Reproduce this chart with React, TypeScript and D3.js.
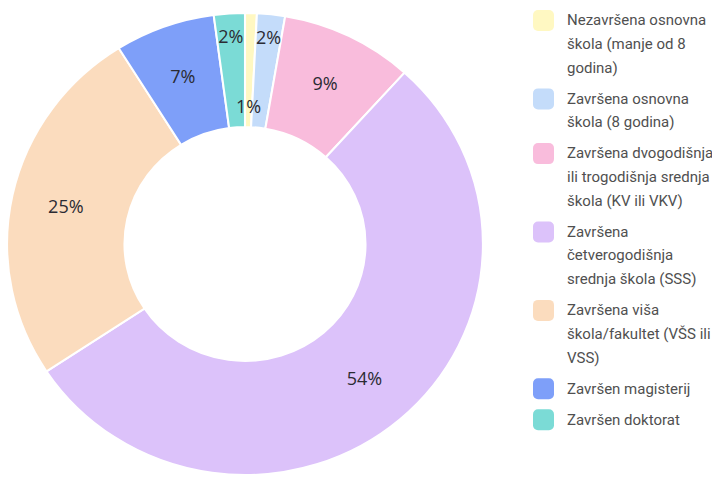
import React, { useEffect, useRef } from 'react'
import * as d3 from 'd3'

const categories = [
  'Nezavršena osnovna škola (manje od 8 godina)',
  'Završena osnovna škola (8 godina)',
  'Završena dvogodišnja ili trogodišnja srednja škola (KV ili VKV)',
  'Završena četverogodišnja srednja škola (SSS)',
  'Završena viša škola/fakultet (VŠS ili VSS)',
  'Završen magisterij',
  'Završen doktorat',
]
// legend lines as wrapped in the picture
const legendLines = [
  ['Nezavršena osnovna', 'škola (manje od 8', 'godina)'],
  ['Završena osnovna', 'škola (8 godina)'],
  ['Završena dvogodišnja', 'ili trogodišnja srednja', 'škola (KV ili VKV)'],
  ['Završena', 'četverogodišnja', 'srednja škola (SSS)'],
  ['Završena viša', 'škola/fakultet (VŠS ili', 'VSS)'],
  ['Završen magisterij'],
  ['Završen doktorat'],
]
const values = [0.8, 1.9, 9.0, 54.0, 25.4, 6.8, 2.1]
const colors = ['#fff8c2', '#c4dcfa', '#f9bcdc', '#dcc2fa', '#fbdcbe', '#7e9ff9', '#7bdbd6']

export default function App() {
  const ref = useRef<SVGSVGElement>(null)

  useEffect(() => {
    const svg = d3.select(ref.current)
    svg.selectAll('*').remove()

    const cx = 245, cy = 244
    const outer = 231, inner = 117
    const g = svg.append('g')
      .attr('transform', `translate(${cx},${cy}) scale(1.03,1)`)

    const pie = d3.pie<number>().sort(null).value(d => d)
    const arcs = pie(values)
    const arc = d3.arc<d3.PieArcDatum<number>>()
      .innerRadius(inner)
      .outerRadius(outer)

    g.selectAll('path.slice')
      .data(arcs)
      .enter()
      .append('path')
      .attr('class', 'slice')
      .attr('d', arc)
      .attr('fill', (d, i) => colors[i])
      .attr('stroke', '#fff')
      .attr('stroke-width', 2)

    const total = d3.sum(values)
    g.selectAll('text.lbl')
      .data(arcs)
      .enter()
      .append('text')
      .attr('class', 'lbl')
      .attr('transform', (d, i) => {
        const a = (d.startAngle + d.endAngle) / 2
        let r = (inner + outer) / 2 + 4
        // tiny slices: stagger labels so they don't collide
        if (d.value / total < 0.03) r = i === 0 ? inner + 20 : outer - 23
        return `translate(${Math.sin(a) * r},${-Math.cos(a) * r}) scale(${1 / 1.03},1)`
      })
      .attr('text-anchor', 'middle')
      .attr('dy', '0.35em')
      .attr('font-family', '"Open Sans", sans-serif')
      .attr('font-size', 18)
      .attr('fill', '#2b2b33')
      .text(d => `${Math.round(d.value / total * 100)}%`)

    // legend
    const lineH = 23.7, gap = 7.3
    const legend = svg.append('g').attr('transform', 'translate(533,0)')
    let y = 20
    legendLines.forEach((lines, i) => {
      const item = legend.append('g').attr('transform', `translate(0,${y})`)
      item.append('rect')
        .attr('x', 0)
        .attr('y', -10)
        .attr('width', 21)
        .attr('height', 21)
        .attr('rx', 5)
        .attr('fill', colors[i])
      item.append('title').text(categories[i])
      lines.forEach((t, j) => {
        item.append('text')
          .attr('x', 34)
          .attr('y', j * lineH)
          .attr('dy', '0.35em')
          .attr('font-family', 'Roboto, sans-serif')
          .attr('font-size', 15)
          .attr('fill', '#505050')
          .text(t)
      })
      y += lines.length * lineH + gap
    })
  }, [])

  return (
    <svg ref={ref} width={712} height={479}
      style={{ position: 'absolute', left: 0, top: 0, background: '#fff' }} />
  )
}
